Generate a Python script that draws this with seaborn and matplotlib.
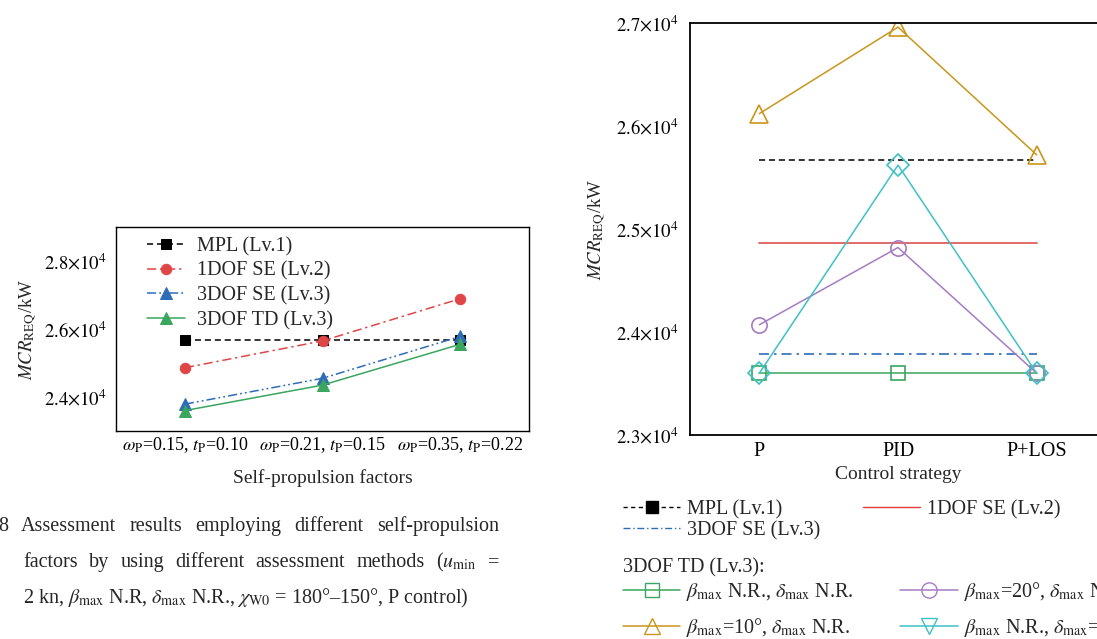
import matplotlib

matplotlib.use("Agg")
import matplotlib.pyplot as plt
import numpy as np
import seaborn as sns
from matplotlib.lines import Line2D
from matplotlib.ticker import FixedLocator, FuncFormatter

# ---- left panel: self-propulsion factors (P control) ----
factor_labels = [
    r"$\omega_{\mathrm{P}}$=0.15, $t_{\mathrm{P}}$=0.10",
    r"$\omega_{\mathrm{P}}$=0.21, $t_{\mathrm{P}}$=0.15",
    r"$\omega_{\mathrm{P}}$=0.35, $t_{\mathrm{P}}$=0.22",
]
mpl_left = [25670, 25670, 25670]
se1_left = [24860, 25650, 26890]
se3_left = [23790, 24550, 25780]
td3_left = [23600, 24350, 25550]

# ---- right panel: control strategy ----
strategies = ["P", "PID", "P+LOS"]
mpl_right = [25670, 25670, 25670]
se1_right = [24860, 24860, 24860]
se3_right = [23790, 23790, 23790]
td_nr = [23600, 23600, 23600]
td_beta10 = [26120, 26960, 25720]
td_beta20 = [24070, 24820, 23600]
td_delta20 = [23600, 25620, 23600]

W, H = 1097, 639
TICK_FS = 13.5
LAB_FS = 14
LEG_FS = 14.5

sns.set_theme(style="white")
plt.rcParams["font.family"] = ["Liberation Serif", "DejaVu Serif"]
plt.rcParams["mathtext.fontset"] = "stix"
plt.rcParams["axes.unicode_minus"] = False


def px_box(x0, y0, x1, y1):
    return [x0 / W, 1 - y1 / H, (x1 - x0) / W, (y1 - y0) / H]


def sci_fmt(v, _):
    return rf"${v / 1e4:.1f}{{\times}}10^{{4}}$"


def style_axes(ax, lw):
    for sp in ax.spines.values():
        sp.set_color("black")
        sp.set_linewidth(lw)
    ax.tick_params(direction="in", length=6, width=lw, colors="black", labelsize=TICK_FS)
    ax.yaxis.set_major_formatter(FuncFormatter(sci_fmt))


fig = plt.figure(figsize=(W / 100, H / 100), dpi=100)

# ---------------- left chart ----------------
ax1 = fig.add_axes(px_box(116, 227, 529, 431))
x_left = np.arange(len(factor_labels))
left_series = [
    (mpl_left, "MPL (Lv.1)", "black", (0, (4, 2.5)), "s", 6.5),
    (se1_left, "1DOF SE (Lv.2)", "#e04646", (0, (6, 2.5, 1.5, 2.5)), "o", 7.5),
    (se3_left, "3DOF SE (Lv.3)", "#2f6cb8", (0, (6, 2, 1.2, 2, 1.2, 2)), "^", 8),
    (td3_left, "3DOF TD (Lv.3)", "#3aa65e", "-", "^", 8),
]
for vals, lab, col, ls, mk, ms in left_series:
    sns.lineplot(x=x_left, y=vals, ax=ax1, color=col, linestyle=ls, lw=1.1,
                 marker=mk, markersize=ms, markeredgecolor=col, markerfacecolor=col,
                 label=lab)
ax1.set_xlim(-0.5, 2.5)
ax1.set_ylim(23000, 29000)
ax1.yaxis.set_major_locator(FixedLocator([24000, 26000, 28000]))
ax1.set_xticks(x_left)
ax1.set_xticklabels(factor_labels)
style_axes(ax1, 1.0)
ax1.tick_params(axis="x", pad=3, labelsize=13)
ax1.tick_params(axis="y", pad=7)
ax1.set_xlabel("Self-propulsion factors", fontsize=LAB_FS)
ax1.set_ylabel(r"$MCR_{\mathrm{REQ}}$/kW", fontsize=13.5)
ax1.xaxis.set_label_coords(0.5, -0.185)
ax1.yaxis.set_label_coords(-0.19, 0.5)
ax1.legend(loc="upper left", bbox_to_anchor=(0.075, 0.952), frameon=False, fontsize=LEG_FS,
           handlelength=1.9, handletextpad=0.6, labelspacing=0.27, borderpad=0,
           borderaxespad=0)

# ---------------- right chart ----------------
ax2 = fig.add_axes(px_box(690, 23, 1106, 435))
x_right = np.arange(len(strategies))
green, gold, purple, cyan = "#3aa65e", "#c9961c", "#a57cc2", "#3ec0c4"
sns.lineplot(x=x_right, y=mpl_right, ax=ax2, color="black", linestyle=(0, (4, 2.5)), lw=1.1)
sns.lineplot(x=x_right, y=se1_right, ax=ax2, color="#e06a6a", lw=1.4)
sns.lineplot(x=x_right, y=se3_right, ax=ax2, color="#2f6cb8", linestyle=(0, (6, 3, 1.5, 3)), lw=1.2)
right_series = [
    (td_nr, green, "s", 10),
    (td_beta10, gold, "^", 13),
    (td_beta20, purple, "o", 11),
    (td_delta20, cyan, "D", 11),
]
for vals, col, mk, ms in right_series:
    sns.lineplot(x=x_right, y=vals, ax=ax2, color=col, lw=1.1, marker=mk, markersize=ms,
                 markerfacecolor="none", markeredgecolor=col, markeredgewidth=1.2)
ax2.set_xlim(-0.5, 2.5)
ax2.set_ylim(23000, 27000)
ax2.yaxis.set_major_locator(FixedLocator([23000, 24000, 25000, 26000, 27000]))
ax2.set_xticks(x_right)
ax2.set_xticklabels(strategies)
style_axes(ax2, 1.3)
ax2.tick_params(axis="x", pad=5, labelsize=14.5)
ax2.tick_params(axis="y", pad=8)
ax2.spines["right"].set_visible(False)
ax2.set_xlabel("Control strategy", fontsize=LAB_FS)
ax2.set_ylabel(r"$MCR_{\mathrm{REQ}}$/kW", fontsize=13.5)
ax2.xaxis.set_label_coords(0.5, -0.075)
ax2.yaxis.set_label_coords(-0.2, 0.5)

# legend under right chart
h_mpl = Line2D([], [], color="black", ls=(0, (3, 2.5)), lw=1, marker="s", ms=9, mfc="black", mec="black")
h_se1 = Line2D([], [], color="#e03a3a", lw=1)
h_se3 = Line2D([], [], color="#2f6cb8", ls=(0, (5, 2, 1, 2)), lw=1)
fig.legend(handles=[h_mpl, h_se3, h_se1],
           labels=["MPL (Lv.1)", "3DOF SE (Lv.3)", "1DOF SE (Lv.2)"],
           ncol=2, loc="upper left", bbox_to_anchor=(623 / W, 1 - 500 / H), frameon=False,
           fontsize=LEG_FS, handlelength=2.85, handletextpad=0.35, columnspacing=2.1,
           labelspacing=0.1, borderpad=0, borderaxespad=0)
fig.text(623 / W, 1 - 568 / H, "3DOF TD (Lv.3):", fontsize=LEG_FS, va="center", ha="left")

td_handles = [
    Line2D([], [], color=green, lw=1.1, marker="s", ms=10, mfc="none", mec=green),
    Line2D([], [], color=gold, lw=1.1, marker="^", ms=12, mfc="none", mec=gold),
    Line2D([], [], color=purple, lw=1.1, marker="o", ms=11, mfc="none", mec=purple),
    Line2D([], [], color=cyan, lw=1.1, marker="v", ms=12, mfc="none", mec=cyan),
]
td_labels = [
    r"$\beta_{\mathrm{max}}$ N.R., $\delta_{\mathrm{max}}$ N.R.",
    r"$\beta_{\mathrm{max}}$=10°, $\delta_{\mathrm{max}}$ N.R.",
    r"$\beta_{\mathrm{max}}$=20°, $\delta_{\mathrm{max}}$ N.R.",
    r"$\beta_{\mathrm{max}}$ N.R., $\delta_{\mathrm{max}}$=20°",
]
fig.legend(handles=td_handles, labels=td_labels, ncol=2, loc="upper left",
           bbox_to_anchor=(623 / W, 1 - 580 / H), frameon=False, fontsize=LEG_FS,
           handlelength=2.85, handletextpad=0.3, columnspacing=2.3, labelspacing=0.66,
           borderpad=0, borderaxespad=0)

# ---------------- caption (justified) ----------------
CAP_FS = 14.5


def justified_line(words, x0, x1, y_base):
    renderer = fig.canvas.get_renderer()
    texts = [fig.text(0, 1 - y_base / H, w, fontsize=CAP_FS, va="baseline", ha="left") for w in words]
    widths = [t.get_window_extent(renderer).width for t in texts]
    gap = (x1 - x0 - sum(widths)) / (len(words) - 1)
    x = x0
    for t, w in zip(texts, widths):
        t.set_x(x / W)
        x += w + gap


justified_line(["8", "Assessment", "results", "employing", "different", "self-propulsion"], -2, 499, 531)
justified_line(["factors", "by", "using", "different", "assessment", "methods",
                r"($u_{\mathrm{min}}$", "="], 23, 499, 567)
fig.text(23 / W, 1 - 603 / H,
         r"2 kn, $\beta_{\mathrm{max}}$ N.R, $\delta_{\mathrm{max}}$ N.R., $\chi_{\mathrm{W0}}$ = 180°–150°, P control)",
         fontsize=CAP_FS, va="baseline", ha="left")

fig.savefig("out.png", dpi=100)
plt.close(fig)
